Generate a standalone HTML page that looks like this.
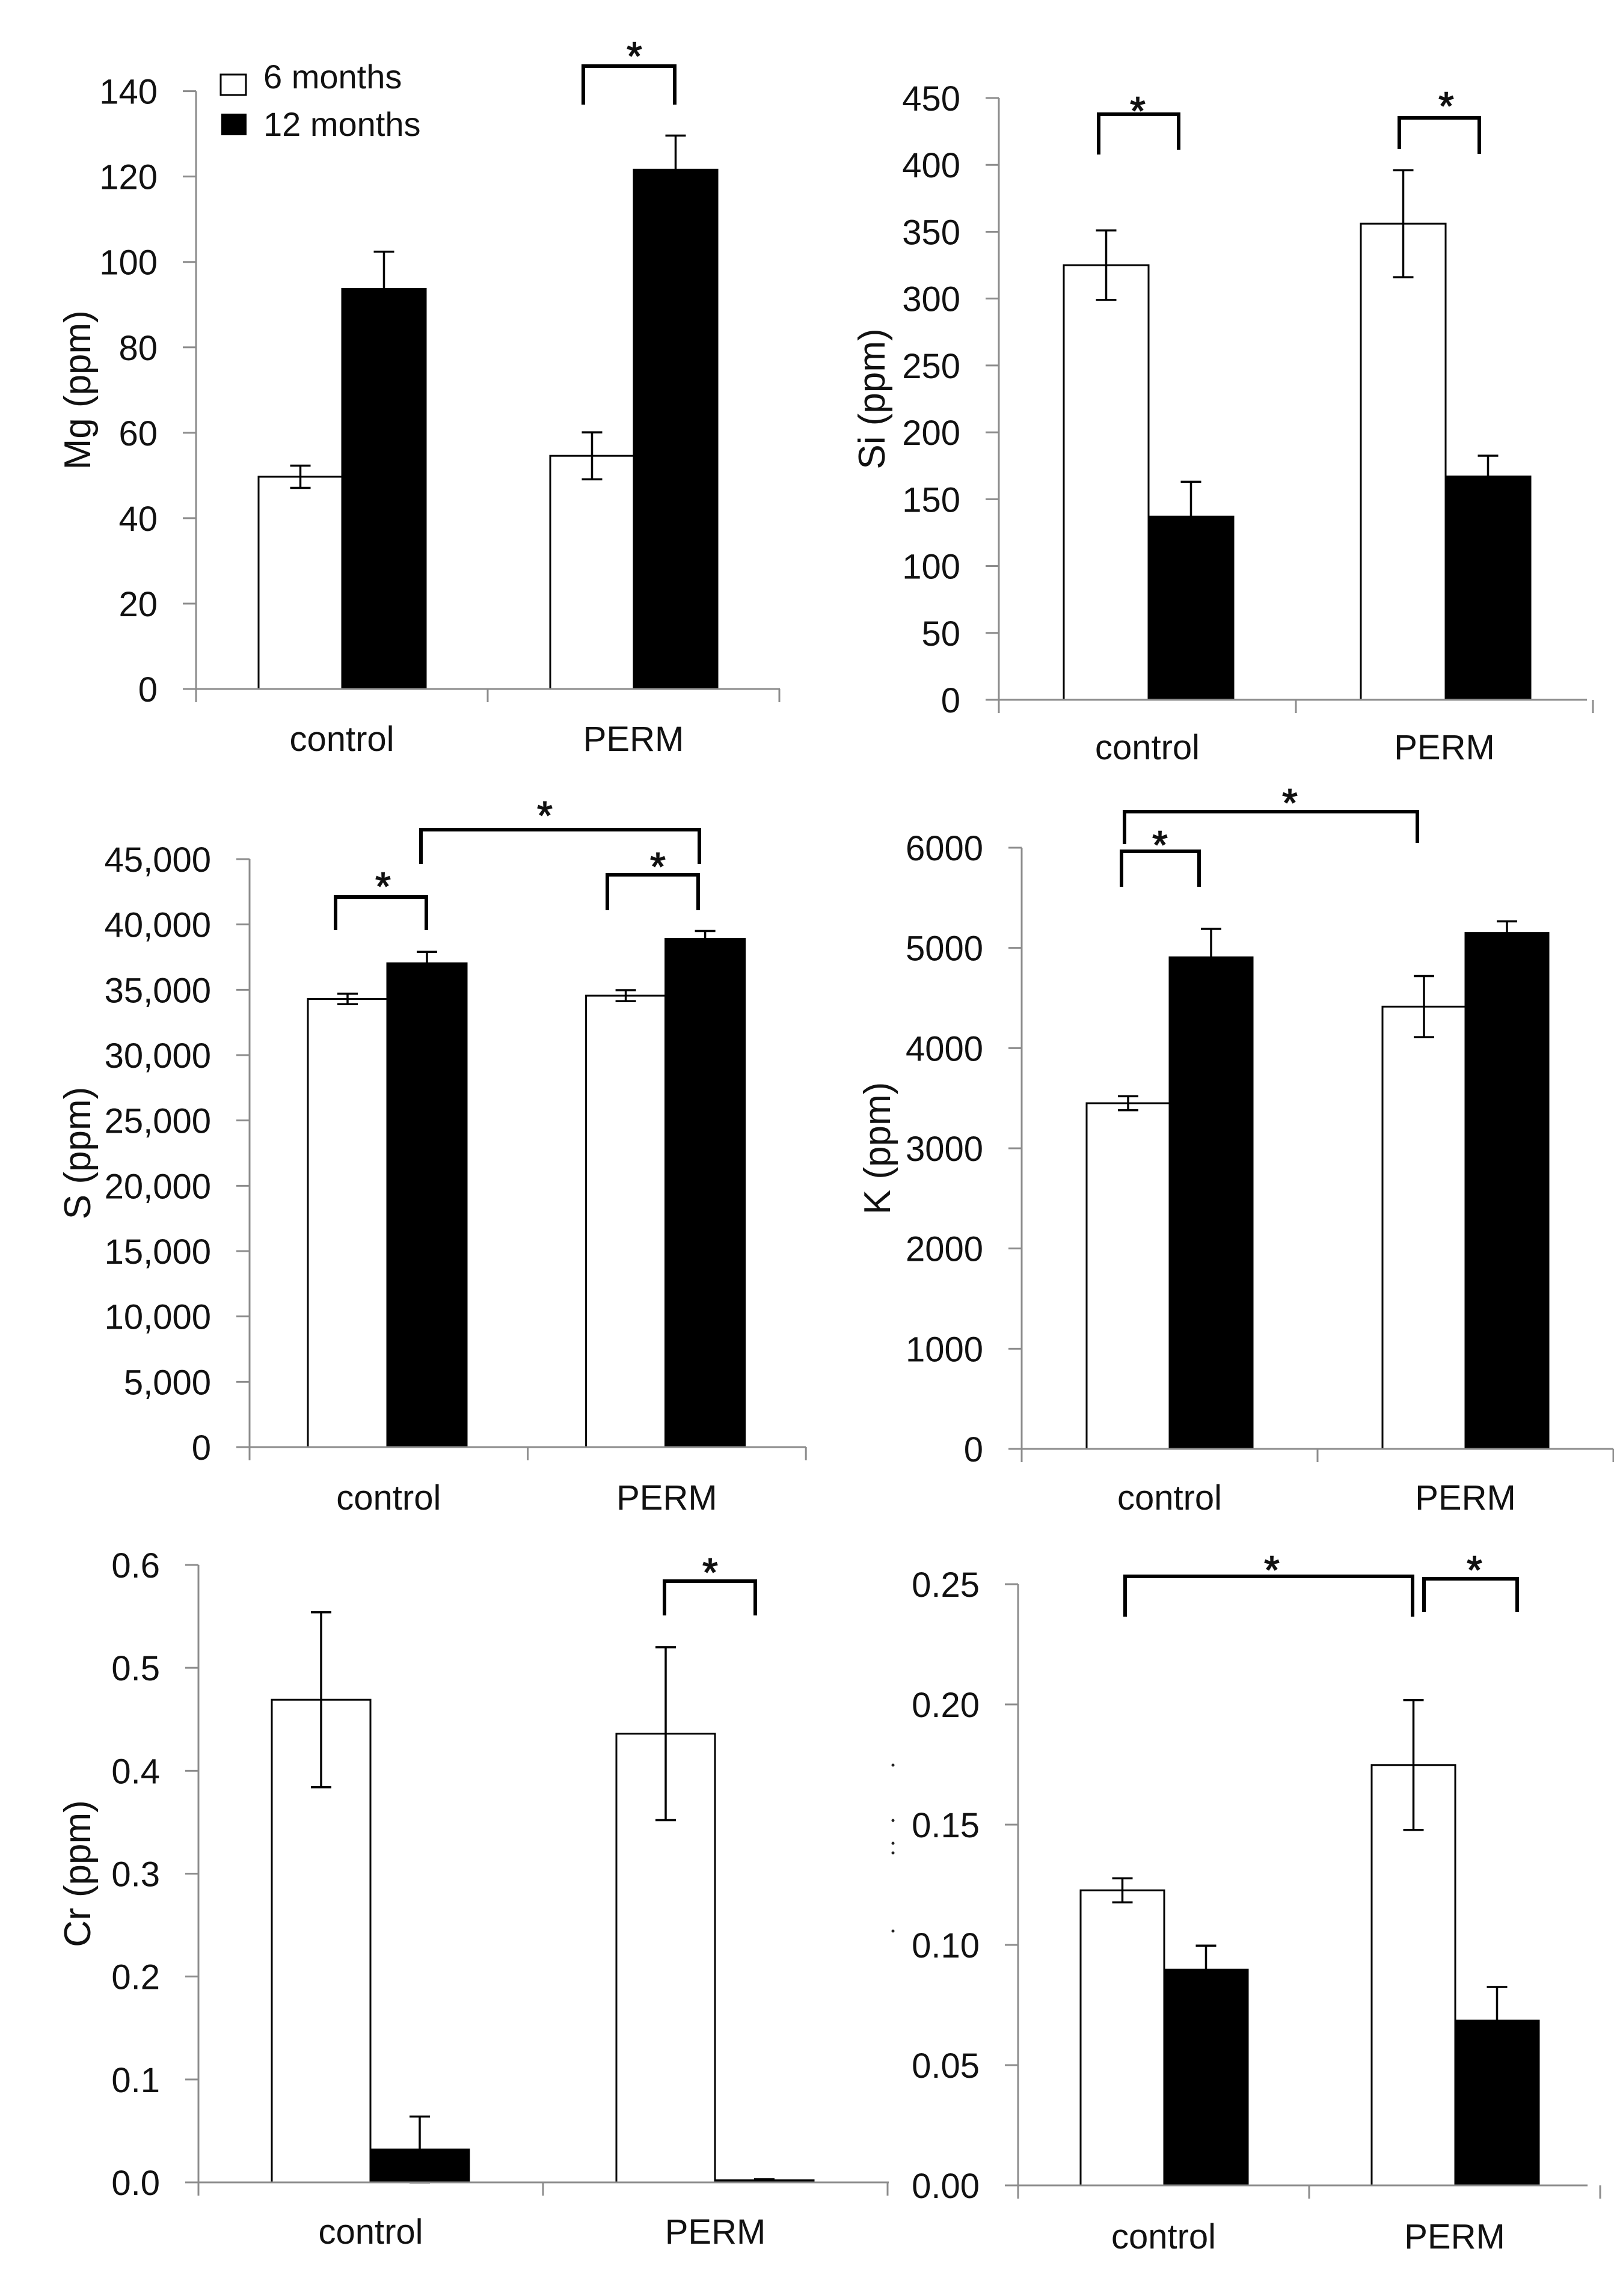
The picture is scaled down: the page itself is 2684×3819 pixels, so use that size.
<!DOCTYPE html>
<html><head><meta charset="utf-8"><style>
html,body{margin:0;padding:0;background:#fff}
svg{display:block}
text{font-family:"Liberation Sans",sans-serif;fill:#111}
</style></head><body>
<svg id="fig" xmlns="http://www.w3.org/2000/svg" width="2684" height="3819" viewBox="0 0 2684 3819">
<rect width="2684" height="3819" fill="#fff"/>
<g>
<rect x="367" y="124" width="42" height="34" fill="#fff" stroke="#000" stroke-width="3"/>
<text x="438" y="147" font-size="56">6 months</text>
<rect x="368" y="189" width="42" height="36" fill="#000"/>
<text x="438" y="226" font-size="56">12 months</text>
</g>
<g fill="#222">
<circle cx="1485" cy="2936" r="2.5"/><circle cx="1485" cy="3028" r="2.5"/><circle cx="1485" cy="3066" r="2.5"/><circle cx="1485" cy="3082" r="2.5"/><circle cx="1485" cy="3212" r="2.5"/>
</g>
</svg>
<script>
// ---- data ----
const categories = ["control", "PERM"];
const mgTicks = ["0","20","40","60","80","100","120","140"];
const mg6 = [49.7, 54.6];
const mg6Err = [2.6, 5.5];
const mg12 = [93.7, 121.6];
const mg12Err = [8.7, 8.0];
const siTicks = ["0","50","100","150","200","250","300","350","400","450"];
const si6 = [325, 356];
const si6Err = [26, 40];
const si12 = [137, 167];
const si12Err = [26, 15.5];
const sTicks = ["0","5,000","10,000","15,000","20,000","25,000","30,000","35,000","40,000","45,000"];
const s6 = [34300, 34550];
const s6Err = [400, 420];
const s12 = [37030, 38900];
const s12Err = [870, 600];
const kTicks = ["0","1000","2000","3000","4000","5000","6000"];
const k6 = [3450, 4414];
const k6Err = [70, 305];
const k12 = [4906, 5150];
const k12Err = [284, 115];
const crTicks = ["0.0","0.1","0.2","0.3","0.4","0.5","0.6"];
const cr6 = [0.469, 0.436];
const cr6Err = [0.085, 0.084];
const cr12 = [0.032, 0.002];
const cr12Err = [0.032, 0.001];
const vTicks = ["0.00","0.05","0.10","0.15","0.20","0.25"];
const v6 = [0.1227, 0.1748];
const v6Err = [0.005, 0.027];
const v12 = [0.0897, 0.0685];
const v12Err = [0.010, 0.014];

// ---- layout (pixel geometry) ----
const NS = "http://www.w3.org/2000/svg";
const svg = document.getElementById('fig');
function mk(tag, attrs, parent){const e=document.createElementNS(NS,tag);for(const k in attrs)e.setAttribute(k,attrs[k]);(parent||svg).appendChild(e);return e;}

const panels = [
 {id:"mg", title:"Mg (ppm)", ticks:mgTicks, step:20, v6:mg6,e6:mg6Err,v12:mg12,e12:mg12Err,
  ax:326, y0:1146, yTop:151.6, xEnd:1297, cw:485, off:104, bw:139, titleX:128, catY:1249,
  brackets:[{x1:970,x2:1122,top:110,l1:174,l2:174,sx:1055,sy:83}]},
 {id:"si", title:"Si (ppm)", ticks:siTicks, step:50, v6:si6,e6:si6Err,v12:si12,e12:si12Err,
  ax:1661, y0:1164, yTop:163, xEnd:2639, cw:494, off:108, bw:141, titleX:1449, catY:1263,
  brackets:[{x1:1827,x2:1960,top:190,l1:257,l2:249,sx:1892,sy:174},{x1:2327,x2:2460,top:196,l1:248,l2:256,sx:2405,sy:166}]},
 {id:"s", title:"S (ppm)", ticks:sTicks, step:5000, v6:s6,e6:s6Err,v12:s12,e12:s12Err,
  ax:415, y0:2407, yTop:1429, xEnd:1340, cw:462.6, off:97, bw:132, titleX:128, catY:2511,
  brackets:[{x1:558,x2:709,top:1492,l1:1547,l2:1547,sx:637,sy:1464},{x1:1010,x2:1161,top:1455,l1:1514,l2:1514,sx:1094,sy:1431},{x1:700,x2:1163,top:1380,l1:1437,l2:1437,sx:906,sy:1346}]},
 {id:"k", title:"K (ppm)", ticks:kTicks, step:1000, v6:k6,e6:k6Err,v12:k12,e12:k12Err,
  ax:1699, y0:2410, yTop:1410, xEnd:2683, cw:492, off:108, bw:138, titleX:1458, catY:2511,
  brackets:[{x1:1865,x2:1994,top:1416,l1:1475,l2:1475,sx:1929,sy:1395},{x1:1870,x2:2357,top:1350,l1:1404,l2:1402,sx:2145,sy:1325}]},
 {id:"cr", title:"Cr (ppm)", ticks:crTicks, step:0.1, v6:cr6,e6:cr6Err,v12:cr12,e12:cr12Err,
  ax:330, y0:3630, yTop:2603, xEnd:1478, cw:573, off:122, bw:164, titleX:128, catY:3732,
  brackets:[{x1:1105,x2:1256,top:2630,l1:2687,l2:2687,sx:1181,sy:2605}]},
 {id:"v", title:"", ticks:vTicks, step:0.05, v6:v6,e6:v6Err,v12:v12,e12:v12Err,
  ax:1693, y0:3635, yTop:2635, xEnd:2640, cw:484, off:104, bw:139, titleX:1458, catY:3740,
  brackets:[{x1:1871,x2:2349,top:2622,l1:2689,l2:2689,sx:2115,sy:2601},{x1:2368,x2:2523,top:2626,l1:2681,l2:2681,sx:2452,sy:2601}]}
];

panels.forEach(p=>{
  const g = mk('g',{});
  
  
  const maxV = p.step*(p.ticks.length-1);
  const yScale = v => p.y0 - (v/maxV)*(p.y0-p.yTop);
  const xCat = i => p.ax + i*p.cw;
  const ya = mk('line',{x1:p.ax,y1:p.yTop,x2:p.ax,y2:p.y0+22,stroke:'#8c8c8c','stroke-width':3},g);
  
  
  p.ticks.forEach((t,i)=>{
    const y = yScale(i*p.step);
    mk('line',{x1:p.ax-22,y1:y,x2:p.ax,y2:y,stroke:'#8c8c8c','stroke-width':3},g);
    const tx = mk('text',{x:p.ax-64,y:y+21,'font-size':58,'text-anchor':'end'},g);
    
    
    tx.textContent = t;
  });
  if(p.title){
    const tt = mk('text',{x:0,y:0,'font-size':62,'text-anchor':'middle',transform:`translate(${p.titleX+22},${(p.y0+p.yTop)/2}) rotate(-90)`},g);
    
    
    tt.textContent = p.title;
  }
  categories.forEach((c,i)=>{
    const x6 = xCat(i)+p.off, x12 = x6+p.bw;
    const y6 = yScale(p.v6[i]), y12 = yScale(p.v12[i]);
    const b1 = mk('rect',{x:x6,y:y6,width:p.bw,height:p.y0-y6,fill:'#fff',stroke:'#000','stroke-width':3},g);
    
    
    const b2 = mk('rect',{x:x12,y:y12,width:p.bw,height:p.y0-y12,fill:'#000',stroke:'#000','stroke-width':3},g);
    
    
    [[x6+p.bw/2,p.v6[i],p.e6[i],'6'],[x12+p.bw/2,p.v12[i],p.e12[i],'12']].forEach(([cx,v,e,s])=>{
      const eg = mk('g',{stroke:'#000','stroke-width':3.5,fill:'none'},g);
      
      
      const yh = yScale(v+e), yl = yScale(Math.max(0,v-e));
      mk('line',{x1:cx,y1:yh,x2:cx,y2:yl},eg);
      mk('line',{x1:cx-17,y1:yh,x2:cx+17,y2:yh},eg);
      mk('line',{x1:cx-17,y1:yl,x2:cx+17,y2:yl},eg);
    });
    const cl = mk('text',{x:xCat(i)+p.cw/2,y:p.catY,'font-size':58,'text-anchor':'middle'},g);
    
    
    cl.textContent = c;
  });
  const xa = mk('line',{x1:p.ax-22,y1:p.y0,x2:p.xEnd,y2:p.y0,stroke:'#8c8c8c','stroke-width':3},g);
  
  
  for(let i=1;i<=categories.length;i++){
    mk('line',{x1:xCat(i),y1:p.y0,x2:xCat(i),y2:p.y0+22,stroke:'#8c8c8c','stroke-width':3},g);
  }
  p.brackets.forEach(b=>{
    const bg = mk('g',{},g);
    
    
    mk('path',{d:`M${b.x1} ${b.l1} L${b.x1} ${b.top} L${b.x2} ${b.top} L${b.x2} ${b.l2}`,fill:'none',stroke:'#000','stroke-width':6},bg);
    const st = mk('text',{x:b.sx,y:b.sy+33,'font-size':66,'text-anchor':'middle',stroke:'#111','stroke-width':1.5},bg);
    st.textContent = '*';
  });
});
</script>
</body></html>
